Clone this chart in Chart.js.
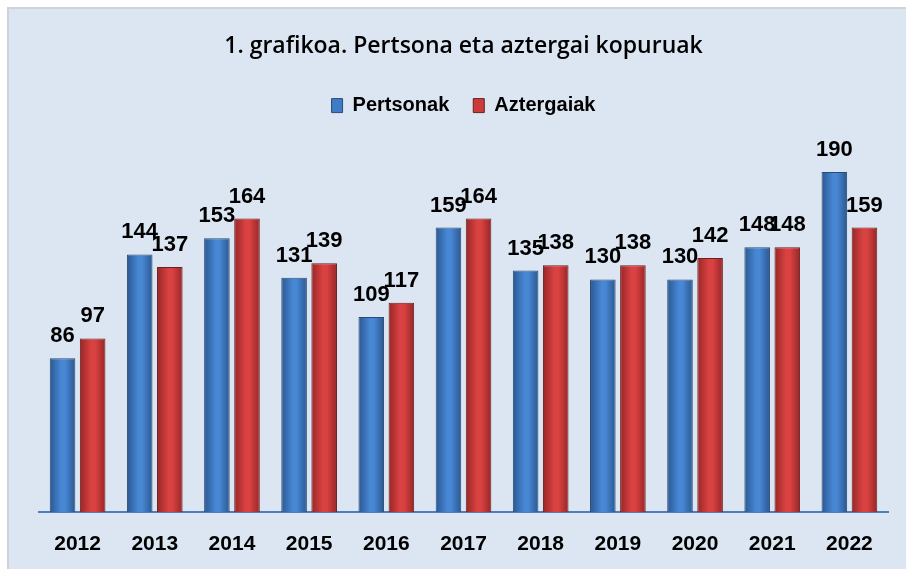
<!DOCTYPE html>
<html>
<head>
<meta charset="utf-8">
<script src="https://cdn.jsdelivr.net/npm/chart.js@4.4.1/dist/chart.umd.min.js"></script>
<style>
  html, body { margin: 0; padding: 0; background: #fff; }
  #wrap { position: relative; width: 906px; height: 569px; overflow: hidden; }
  #panel {
    position: absolute; left: 7px; top: 7px; width: 906px; height: 569px;
    background: #dce6f2; border-top: 2px solid #d2d2d2; border-left: 2px solid #d2d2d2;
  }
  #chart-box { position: absolute; left: 0; top: 0; width: 906px; height: 569px; }
</style>
</head>
<body>
<div id="wrap">
  <div id="panel"></div>
  <div id="chart-box"><canvas id="chart-kopuruak"></canvas></div>
</div>
<script>
// data
const years = ['2012', '2013', '2014', '2015', '2016', '2017', '2018', '2019', '2020', '2021', '2022'];
const pertsonak = [86, 144, 153, 131, 109, 159, 135, 130, 130, 148, 190];
const aztergaiak = [97, 137, 164, 139, 117, 164, 138, 138, 142, 148, 159];

document.addEventListener('DOMContentLoaded', function () {
  const CAT_PCT = 0.78;
  const BAR_PCT = 0.85;
  const FONT = "'Liberation Sans', Arial, sans-serif";

  // cylinder-ish gradient across each bar
  const barGradient = function (edge, mid) {
    return function (ctx) {
      const chart = ctx.chart;
      const xs = chart.scales.x;
      if (!xs || !chart.chartArea || ctx.dataIndex == null) return mid;
      const catW = xs.width / years.length;
      const slot = (catW * CAT_PCT) / 2;
      const center = xs.getPixelForValue(ctx.dataIndex) + (ctx.datasetIndex - 0.5) * slot;
      const half = (slot * BAR_PCT) / 2;
      const g = chart.ctx.createLinearGradient(center - half, 0, center + half, 0);
      g.addColorStop(0, edge);
      g.addColorStop(0.45, mid);
      g.addColorStop(0.6, mid);
      g.addColorStop(1, edge);
      return g;
    };
  };

  // value labels above the bars
  const valueLabels = {
    id: 'valueLabels',
    afterDatasetsDraw(chart) {
      const c = chart.ctx;
      c.save();
      c.font = 'bold 22px ' + FONT;
      c.fillStyle = '#000';
      c.textAlign = 'center';
      c.textBaseline = 'alphabetic';
      chart.data.datasets.forEach((ds, i) => {
        chart.getDatasetMeta(i).data.forEach((bar, j) => {
          c.fillText(String(ds.data[j]), bar.x, bar.y - 16);
        });
      });
      c.restore();
    },
  };

  new Chart(document.getElementById('chart-kopuruak'), {
    type: 'bar',
    data: {
      labels: years,
      datasets: [
        {
          label: 'Pertsonak',
          data: pertsonak,
          backgroundColor: barGradient('#2a5892', '#4887d4'),
          borderColor: '#2c4b72',
          borderWidth: 1,
          legendColor: '#3f7cc8',
        },
        {
          label: 'Aztergaiak',
          data: aztergaiak,
          backgroundColor: barGradient('#982626', '#da4242'),
          borderColor: '#6b1f1f',
          borderWidth: 1,
          legendColor: '#cc3a3a',
        },
      ],
    },
    options: {
      responsive: true,
      maintainAspectRatio: false,
      animation: false,
      categoryPercentage: CAT_PCT,
      barPercentage: BAR_PCT,
      layout: { padding: { top: 33, left: 39, right: 18, bottom: 0 } },
      scales: {
        x: {
          grid: { display: false, drawTicks: false },
          border: { display: true, color: '#4f7fbb', width: 2 },
          ticks: { color: '#000', padding: 20, font: { family: FONT, size: 21, weight: 'bold' } },
          afterFit: (s) => { s.height = 57; },
        },
        y: {
          display: false,
          min: 0,
          max: 216,
        },
      },
      plugins: {
        title: {
          display: true,
          text: '1. grafikoa. Pertsona eta aztergai kopuruak',
          color: '#000',
          font: { family: "'Open Sans', sans-serif", size: 23, weight: '600' },
          padding: { top: 0, bottom: 11 },
        },
        legend: {
          display: true,
          labels: {
            color: '#000',
            boxWidth: 11,
            boxHeight: 14,
            padding: 24,
            font: { family: FONT, size: 20, weight: 'bold' },
            generateLabels: (chart) => chart.data.datasets.map((ds, i) => ({
              text: ds.label,
              fillStyle: ds.legendColor,
              strokeStyle: ds.borderColor,
              lineWidth: 1,
              datasetIndex: i,
            })),
          },
        },
        tooltip: { enabled: false },
      },
    },
    plugins: [valueLabels],
  });
});
</script>
</body>
</html>
